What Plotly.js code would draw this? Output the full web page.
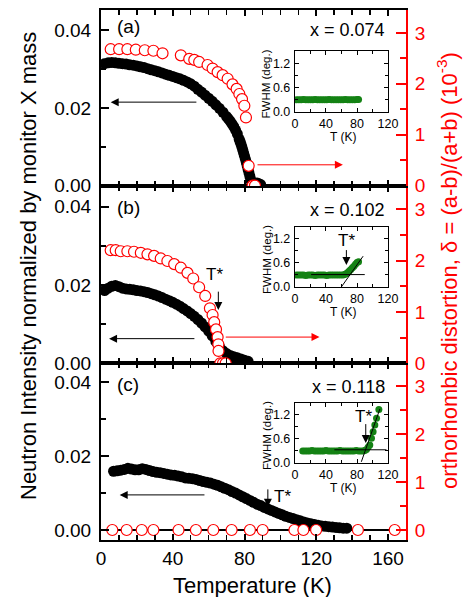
<!DOCTYPE html>
<html><head><meta charset="utf-8">
<script src="https://cdn.plot.ly/plotly-3.0.1.min.js"></script>
<style>body{margin:0;background:#fff}#chart{width:466px;height:597px}</style>
</head><body><div id="chart"></div>
<script>
// ---------- DATA ----------
// Panel (a) x = 0.074 : neutron intensity (black) and orthorhombic distortion (red)
const tA = [2,4,6,8,10,12,14,16,18,20,22,24,26,28,30,32,34,36,38,40,42,44,46,48,50,52,54,56,58,60,62,64,66,68,70,71,72,73,74,75,76,77,77.5,78,78.5,79,79.5,80,80.5,81,81.5,82,82.5,83,83.5,84,85,86,87,88,89];
const iA = [.0314,.0316,.0317,.0316,.0315,.0314,.0313,.0311,.0310,.0308,.0306,.0304,.0301,.0298,.0296,.0293,.0290,.0287,.0284,.0281,.0278,.0275,.0271,.0267,.0262,.0256,.0248,.0241,.0233,.0225,.0217,.0208,.0199,.0189,.0178,.0172,.0166,.0159,.0152,.0143,.0133,.0120,.0114,.0107,.0100,.0092,.0084,.0076,.0068,.0060,.0051,.0042,.0033,.0024,.0015,.0008,.0005,.0006,.0007,.0005,.0003];
const dTA = [5.4,10.1,14.7,19.4,24.4,29.2,34.3,44.5,49.2,52,54.7,59.4,62.2,65,67.8,70.6,73.3,75.6,77.1,78.6,79.9,80.8,82.3,84.5,85.8];
const dA  = [2.68,2.68,2.68,2.67,2.66,2.65,2.60,2.56,2.49,2.47,2.43,2.37,2.30,2.23,2.17,2.10,1.99,1.90,1.80,1.70,1.57,1.34,0.39,0,0];

// Panel (b) x = 0.102
const tB = [2,4,6,8,10,12,14,16,18,20,22,24,26,28,30,32,34,36,38,40,42,44,46,48,50,52,54,56,58,60,62,64,66,68,70,72,74,76,78,80,82];
const iB = [.0186,.0192,.0197,.0199,.0196,.0192,.0190,.0189,.0188,.0186,.0185,.0183,.0181,.0178,.0175,.0172,.0168,.0164,.0160,.0156,.0151,.0146,.0140,.0134,.0127,.0120,.0112,.0103,.0093,.0082,.0070,.0056,.0043,.0032,.0025,.0020,.0017,.0014,.0011,.0008,.0005];
const dTB = [5.4,8.2,11,14.7,18.4,22.2,25.9,29.6,33.3,37,40.8,44.5,48.2,51.4,54.7,58.1,60.7,62.2,63.1,64.1,65,65.4,65.5,66.5,68,69.5];
const dB  = [2.20,2.20,2.18,2.18,2.17,2.15,2.12,2.09,2.04,1.99,1.93,1.86,1.76,1.65,1.48,1.31,1.07,0.94,0.80,0.66,0.51,0.37,0.24,0,0,0];

// Panel (c) x = 0.118
const tC = [7,9,11,13,15,17,19,21,23,25,27,29,31,33,35,37,39,41,43,45,47,49,51,53,55,57,59,61,63,65,67,69,71,73,75,77,79,81,83,85,87,89,91,93,95,97,99,101,103,105,107,109,111,113,115,117,119,121,123,125,127,129,131,133,135,137];
const iC = [.0159,.0160,.0162,.0164,.0167,.0165,.0163,.0163,.0166,.0164,.0161,.0158,.0156,.0155,.0153,.0151,.0149,.0148,.0146,.0144,.0141,.0140,.0139,.0137,.0134,.0131,.0129,.0127,.0124,.0121,.0117,.0113,.0109,.0104,.0100,.0095,.0090,.0085,.0080,.0075,.0070,.0066,.0061,.0057,.0053,.0049,.0045,.0041,.0037,.0034,.0031,.0028,.0025,.0022,.0019,.0017,.0015,.0013,.0011,.0010,.0009,.0008,.0007,.0006,.0005,.0005];
const dTC = [6.3,14.3,22.7,29.2,43.2,52.9,62.6,72.8,83.0,90.1,107.8,112.8,119.9,143.2,163.7];
const dC  = [0,0,0,0,0,0,0,0,0,0,0,0,0,0,0];

// Insets: FWHM (deg.) vs T (K)
const fTA = [2,5,8,11,14,17,20,23,26,29,32,35,38,41,44,47,50,53,56,59,62,65,68,71,74,77,80,82];
const fA  = [0.30,0.30,0.30,0.31,0.30,0.30,0.30,0.30,0.31,0.30,0.30,0.30,0.30,0.30,0.31,0.30,0.30,0.30,0.30,0.30,0.30,0.31,0.30,0.30,0.30,0.30,0.31,0.31];
const fTB = [2,5,8,11,14,17,20,23,26,29,32,35,38,41,44,47,50,53,56,59,62,64,66,68,70,72,74,76,78,80,82];
const fB  = [0.30,0.30,0.30,0.30,0.29,0.30,0.30,0.30,0.29,0.30,0.30,0.30,0.30,0.29,0.30,0.30,0.30,0.30,0.30,0.30,0.30,0.31,0.33,0.36,0.40,0.44,0.48,0.52,0.57,0.61,0.63];
const fTC = [10,13,16,19,22,25,28,31,34,37,40,43,46,49,52,55,58,61,64,67,70,73,76,79,82,85,88,90,92.2,94.5,96.5,98.7,100.8,103,105.2,108.2];
const fC  = [0.30,0.30,0.30,0.30,0.31,0.30,0.30,0.30,0.30,0.30,0.31,0.30,0.30,0.30,0.30,0.30,0.31,0.30,0.30,0.30,0.30,0.30,0.30,0.31,0.30,0.30,0.30,0.31,0.34,0.40,0.45,0.62,0.78,0.95,1.12,1.34];
// fit lines in insets
const fitBh = {t:[20.8,90], f:[0.31,0.31]}, fitBs = {t:[59.8,87.9], f:[0.0,0.77]};
const fitCh = {t:[50.8,118], f:[0.33,0.33]}, fitCs = {t:[85.6,109.5], f:[0.03,1.35]};

// ---------- LAYOUT ----------
const FONT = 'Liberation Sans, Arial, Helvetica, sans-serif';
const black = '#000', red = '#ff0000', green = '#148214';

function blackTrace(x, y, xa, ya){
  return {x, y, xaxis:xa, yaxis:ya, type:'scatter', mode:'markers',
    marker:{symbol:'circle', size:11, color:black}, hoverinfo:'skip'};
}
function redTrace(x, y, xa, ya){
  return {x, y, xaxis:xa, yaxis:ya, type:'scatter', mode:'markers',
    marker:{symbol:'circle', size:11, color:'#fff', line:{color:red, width:1.2}}, hoverinfo:'skip'};
}
function greenTrace(x, y, xa, ya){
  return {x, y, xaxis:xa, yaxis:ya, type:'scatter', mode:'markers',
    marker:{symbol:'circle', size:7, color:green}, hoverinfo:'skip'};
}
function lineTrace(o, xa, ya){
  return {x:o.t, y:o.f, xaxis:xa, yaxis:ya, type:'scatter', mode:'lines',
    line:{color:black, width:1}, hoverinfo:'skip'};
}

const traces = [
  blackTrace(tC, iC, 'x', 'y'),  redTrace(dTC, dC, 'x', 'y2'),
  blackTrace(tB, iB, 'x2', 'y3'), redTrace(dTB, dB, 'x2', 'y4'),
  blackTrace(tA, iA, 'x3', 'y5'), redTrace(dTA, dA, 'x3', 'y6'),
  greenTrace(fTA, fA, 'x4', 'y7'),
  greenTrace(fTB, fB, 'x5', 'y8'), lineTrace(fitBh,'x5','y8'), lineTrace(fitBs,'x5','y8'),
  greenTrace(fTC, fC, 'x6', 'y9'), lineTrace(fitCh,'x6','y9'), lineTrace(fitCs,'x6','y9')
];

function mainX(anchor, labels){
  return {domain:[0,1], anchor, range:[0,170], showline:true, linecolor:black, linewidth:2,
    mirror:'ticks', ticks:'inside', ticklen:6, tickwidth:2, tickcolor:black, dtick:40, tick0:0,
    minor:{dtick:10, ticks:'inside', ticklen:5, tickwidth:1.5, tickcolor:black},
    showticklabels:labels, tickfont:{size:19, color:black, family:FONT},
    showgrid:false, zeroline:false, fixedrange:true};
}
function leftY(dom, anchor, range, zl){
  return {domain:dom, anchor, range, showline:true, linecolor:black, linewidth:2,
    ticks:'inside', ticklen:8, tickwidth:2, tickcolor:black, dtick:0.02, tick0:0, tickformat:'.2f',
    minor:{dtick:0.01, ticks:'inside', ticklen:5, tickwidth:1.5, tickcolor:black},
    tickfont:{size:19, color:black, family:FONT}, showgrid:false,
    zeroline:zl, zerolinecolor:black, zerolinewidth:1.5, ticklabelstandoff:4};
}
function rightY(overlay, anchor, range){
  return {overlaying:overlay, anchor, side:'right', range, showline:true, linecolor:red, linewidth:2,
    ticks:'inside', ticklen:10, tickwidth:2, tickcolor:red, dtick:1, tick0:0,
    minor:{dtick:0.5, ticks:'inside', ticklen:6, tickwidth:2, tickcolor:red},
    tickfont:{size:19, color:red, family:FONT}, showgrid:false, zeroline:false, ticklabelstandoff:3};
}
function insetX(dom, anchor){
  return {domain:dom, anchor, range:[0,120], showline:true, linecolor:black, linewidth:1.2,
    mirror:'ticks', ticks:'inside', ticklen:4, tickwidth:1, tickcolor:black, dtick:40, tick0:0,
    minor:{dtick:20, ticks:'inside', ticklen:3, tickwidth:1, tickcolor:black},
    tickfont:{size:12.5, color:black, family:FONT}, showgrid:false, zeroline:false, ticklabelstandoff:0};
}
function insetY(dom, anchor){
  return {domain:dom, anchor, range:[0,1.5], showline:true, linecolor:black, linewidth:1.2,
    mirror:'ticks', ticks:'inside', ticklen:4, tickwidth:1, tickcolor:black, dtick:0.6, tick0:0, tickformat:'.1f',
    minor:{dtick:0.3, ticks:'inside', ticklen:3, tickwidth:1, tickcolor:black},
    tickfont:{size:12.5, color:black, family:FONT}, showgrid:false, zeroline:false, ticklabelstandoff:1};
}

const domC = [0, 0.3334], domB = [0.3334, 0.667], domA = [0.667, 1];
const inX = [0.636, 0.941];
const inA = [0.8075, 0.9226], inB = [0.4774, 0.5906], inC = [0.1453, 0.2585];

// arrows: [xref, yref, headX, headY, tailX, tailY, color]
const arrows = [
  ['x3','y5', 5.4, 0.0215, 54, 0.0215, black],
  ['x3','y6', 134.8, 0.41, 86.4, 0.41, red],
  ['x2','y3', 4.5, 0.0063, 52.9, 0.0063, black],
  ['x2','y4', 121.8, 0.51, 68.7, 0.51, red],
  ['x','y', 10.4, 0.0095, 58.5, 0.0095, black],
  ['x2','y3', 65.4, 0.0136, 65.4, 0.0187, black],
  ['x','y', 93, 0.0063, 93, 0.0114, black],
  ['x5','y8', 66.3, 0.55, 66.3, 0.96, black],
  ['x6','y9', 91.3, 0.50, 91.3, 1.01, black]
];
// T* labels: [xref, yref, x, y]
const tstar = [
  ['x2','y3', 63, 0.0226],
  ['x','y', 101, 0.0090],
  ['x5','y8', 66, 1.17],
  ['x6','y9', 88, 1.17]
];
const panelLabels = [['(a)', 0.9680], ['(b)', 0.6280], ['(c)', 0.2925]];
const xLabels = [['x = 0.074', 0.9623], ['x = 0.102', 0.6226], ['x = 0.118', 0.2893]];

const ann = [];
arrows.forEach(a => ann.push({xref:a[0], yref:a[1], x:a[2], y:a[3], axref:a[0], ayref:a[1], ax:a[4], ay:a[5],
  text:'', showarrow:true, arrowhead:2, arrowsize:1.6, arrowwidth:1, arrowcolor:a[6], standoff:0, startstandoff:0}));
tstar.forEach(t => ann.push({xref:t[0], yref:t[1], x:t[2], y:t[3], text:'T*', showarrow:false,
  font:{size:17, color:black, family:FONT}}));
panelLabels.forEach(p => ann.push({xref:'paper', yref:'paper', x:0.046, y:p[1], xanchor:'left', yanchor:'middle',
  text:p[0], showarrow:false, font:{size:19, color:black, family:FONT}}));
xLabels.forEach(p => ann.push({xref:'paper', yref:'paper', x:0.9377, y:p[1], xanchor:'right', yanchor:'middle',
  text:p[0], showarrow:false, font:{size:18, color:black, family:FONT}}));
[inA, inB, inC].forEach(d => {
  ann.push({xref:'paper', yref:'paper', x:0.542, y:(d[0]+d[1])/2 - 0.005, xanchor:'center', yanchor:'middle',
    text:'FWHM (deg.)', textangle:-90, showarrow:false, font:{size:11.5, color:black, family:FONT}});
  ann.push({xref:'paper', yref:'paper', x:0.793, y:d[0] - 0.048, xanchor:'center', yanchor:'middle',
    text:'T (K)', showarrow:false, font:{size:12, color:black, family:FONT}});
});
ann.push({xref:'paper', yref:'paper', x:-0.236, y:0.517, xanchor:'center', yanchor:'middle', textangle:-90,
  text:'Neutron Intensity normalized by monitor X mass', showarrow:false, font:{size:22, color:black, family:FONT}});
ann.push({xref:'paper', yref:'paper', x:1.135, y:0.508, xanchor:'center', yanchor:'middle', textangle:-90,
  text:'orthorhombic distortion, δ = (a-b)/(a+b) (10<sup>-3</sup>)', showarrow:false, font:{size:22, color:red, family:FONT}});
ann.push({xref:'paper', yref:'paper', x:0.497, y:-0.085, xanchor:'center', yanchor:'middle',
  text:'Temperature (K)', showarrow:false, font:{size:22, color:black, family:FONT}});

const layout = {
  width:466, height:597, margin:{l:101, r:60, t:10, b:57},
  paper_bgcolor:'#fff', plot_bgcolor:'rgba(0,0,0,0)', showlegend:false,
  font:{family:FONT, color:black},
  xaxis: mainX('y', true),
  xaxis2: mainX('y3', false),
  xaxis3: mainX('y5', false),
  yaxis: leftY(domC, 'x', [-0.0027, 0.0451], true),
  yaxis2: rightY('y', 'x', [-0.208, 3.47]),
  yaxis3: leftY(domB, 'x2', [0, 0.0452], false),
  yaxis4: rightY('y3', 'x2', [0, 3.44]),
  yaxis5: leftY(domA, 'x3', [-0.0002, 0.0452], false),
  yaxis6: rightY('y5', 'x3', [-0.016, 3.45]),
  xaxis4: insetX(inX, 'y7'), yaxis7: insetY(inA, 'x4'),
  xaxis5: insetX(inX, 'y8'), yaxis8: insetY(inB, 'x5'),
  xaxis6: insetX(inX, 'y9'), yaxis9: insetY(inC, 'x6'),
  annotations: ann
};

Plotly.newPlot('chart', traces, layout, {staticPlot:true, displayModeBar:false});
</script>
</body></html>
